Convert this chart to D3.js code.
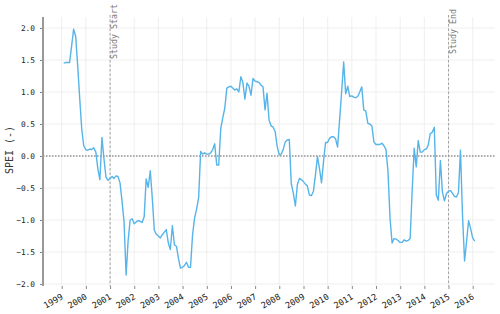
<!DOCTYPE html>
<html>
<head>
<meta charset="utf-8">
<script src="https://cdn.jsdelivr.net/npm/d3@7"></script>
<style>
  body { margin: 0; background: #fff; }
  svg { display: block; }
  text { font-family: "DejaVu Sans Mono", monospace; }
</style>
</head>
<body>
<script>
// monthly SPEI, Jan 1999 .. Jan 2016 (one row per year)
const speiValues = [
  1.45, 1.46, 1.46, 1.46, 1.72, 1.98, 1.87, 1.40, 0.90, 0.42, 0.16, 0.10,
  0.09, 0.11, 0.10, 0.13, 0.06, -0.20, -0.37, 0.29, -0.04, -0.33, -0.38, -0.35,
  -0.32, -0.35, -0.31, -0.32, -0.42, -0.70, -1.03, -1.86, -1.33, -1.00, -0.98, -1.06,
  -1.03, -1.01, -1.02, -1.04, -0.95, -0.36, -0.49, -0.23, -0.65, -1.16, -1.22, -1.25,
  -1.28, -1.23, -1.19, -1.15, -1.36, -1.46, -1.09, -1.39, -1.41, -1.60, -1.75, -1.74,
  -1.71, -1.66, -1.74, -1.74, -1.23, -0.97, -0.83, -0.65, 0.07, 0.03, 0.05, 0.03,
  0.03, 0.05, 0.10, 0.19, -0.14, -0.14, 0.43, 0.60, 0.75, 1.06, 1.08, 1.09,
  1.06, 1.03, 1.05, 1.00, 1.24, 1.15, 0.89, 1.14, 1.09, 0.95, 1.21, 1.17,
  1.16, 1.15, 1.11, 1.08, 0.72, 0.98, 0.56, 0.47, 0.45, 0.38, 0.15, 0.02,
  0.03, 0.10, 0.22, 0.25, 0.26, -0.43, -0.58, -0.78, -0.45, -0.35, -0.37, -0.40,
  -0.44, -0.47, -0.61, -0.62, -0.55, -0.30, -0.01, -0.20, -0.42, -0.08, 0.21, 0.21,
  0.28, 0.30, 0.30, 0.27, 0.14, 0.56, 1.00, 1.47, 0.97, 1.09, 0.93, 0.94,
  0.92, 0.91, 0.93, 1.00, 1.08, 0.72, 0.70, 0.51, 0.50, 0.47, 0.22, 0.18,
  0.18, 0.18, 0.20, 0.16, 0.10, -0.24, -0.97, -1.36, -1.29, -1.30, -1.32, -1.35,
  -1.35, -1.31, -1.33, -1.32, -1.29, -0.56, 0.12, -0.17, 0.24, 0.06, 0.06, 0.10,
  0.11, 0.17, 0.35, 0.37, 0.45, -0.61, -0.69, -0.07, -0.56, -0.70, -0.59, -0.55,
  -0.54, -0.58, -0.63, -0.64, -0.57, 0.09, -0.92, -1.64, -1.34, -1.01, -1.13, -1.28,
  -1.33
];
const yearTicks = d3.range(1999, 2017);
const yTicks = [-2, -1.5, -1, -0.5, 0, 0.5, 1, 1.5, 2];
const studyYears = [2001, 2015];
const studyLabels = ["Study Start", "Study End"];

const width = 500, height = 314;
const plot = {left: 43, right: 495, top: 17, bottom: 286};

// month-end dates for each value
const dates = speiValues.map((v, i) => new Date(1999, i + 1, 0));

const x = d3.scaleTime()
  .domain([new Date(1999, 0, 1), new Date(2016, 0, 1)])
  .range([61.7, 472.7]);
const y = d3.scaleLinear().domain([-2, 2]).range([284, 28]);

const svg = d3.select("body").append("svg")
  .attr("width", width)
  .attr("height", height);

// grid
svg.append("g").selectAll("line").data(yTicks).enter().append("line")
  .attr("x1", plot.left).attr("x2", plot.right)
  .attr("y1", d => y(d)).attr("y2", d => y(d))
  .attr("stroke", "#ebebeb").attr("stroke-width", 0.8);
svg.append("g").selectAll("line").data(yearTicks).enter().append("line")
  .attr("x1", d => x(new Date(d, 0, 1))).attr("x2", d => x(new Date(d, 0, 1)))
  .attr("y1", plot.top).attr("y2", plot.bottom)
  .attr("stroke", "#ebebeb").attr("stroke-width", 0.8);

// zero line
svg.append("line")
  .attr("x1", plot.left).attr("x2", plot.right)
  .attr("y1", y(0)).attr("y2", y(0))
  .attr("stroke", "#666").attr("stroke-width", 1.2)
  .attr("stroke-dasharray", "1.5,1.5");

// study start / end
const study = svg.append("g").selectAll("g").data(studyYears).enter().append("g");
study.append("line")
  .attr("x1", d => x(new Date(d, 0, 1))).attr("x2", d => x(new Date(d, 0, 1)))
  .attr("y1", plot.top - 2).attr("y2", plot.bottom)
  .attr("stroke", "#999").attr("stroke-width", 0.9)
  .attr("stroke-dasharray", "2.5,2");
study.append("text")
  .attr("transform", d => "translate(" + (x(new Date(d, 0, 1)) + 7) + ",31.5) rotate(-90)")
  .attr("text-anchor", "middle")
  .style("font-size", "8.3px")
  .attr("fill", "#777")
  .text((d, i) => studyLabels[i]);

// series
const line = d3.line()
  .x((d, i) => x(dates[i]))
  .y(d => y(d));
svg.append("path")
  .datum(speiValues)
  .attr("fill", "none")
  .attr("stroke", "#56b4e9")
  .attr("stroke-width", 1.4)
  .attr("stroke-linejoin", "round")
  .attr("d", line);

// axes
const yAxis = d3.axisLeft(y)
  .tickValues(yTicks)
  .tickFormat(d3.format(".1f"))
  .tickSize(3).tickPadding(5);
const yg = svg.append("g")
  .attr("transform", "translate(" + plot.left + ",0)")
  .call(yAxis);
yg.select(".domain").remove();
yg.selectAll(".tick line").attr("stroke", "#888");
yg.selectAll(".tick text").style("font-size", "7.8px").attr("fill", "#222");

const xAxis = d3.axisBottom(x)
  .tickValues(yearTicks.map(d => new Date(d, 0, 1)))
  .tickFormat(d3.timeFormat("%Y"))
  .tickSize(3);
const xg = svg.append("g")
  .attr("transform", "translate(0," + plot.bottom + ")")
  .call(xAxis);
xg.select(".domain").remove();
xg.selectAll(".tick line").attr("stroke", "#888");
xg.selectAll(".tick text")
  .attr("y", 0).attr("dy", 0)
  .attr("transform", "translate(1.5,12.5) rotate(-30)")
  .style("text-anchor", "end")
  .style("font-size", "8.6px")
  .attr("fill", "#222");

// left spine
svg.append("line")
  .attr("x1", plot.left).attr("x2", plot.left)
  .attr("y1", plot.top).attr("y2", plot.bottom)
  .attr("stroke", "#999").attr("stroke-width", 2);

svg.append("text")
  .attr("transform", "translate(13,150) rotate(-90)")
  .attr("text-anchor", "middle")
  .style("font-size", "10px")
  .attr("fill", "#333")
  .text("SPEI (-)");
</script>
</body>
</html>
